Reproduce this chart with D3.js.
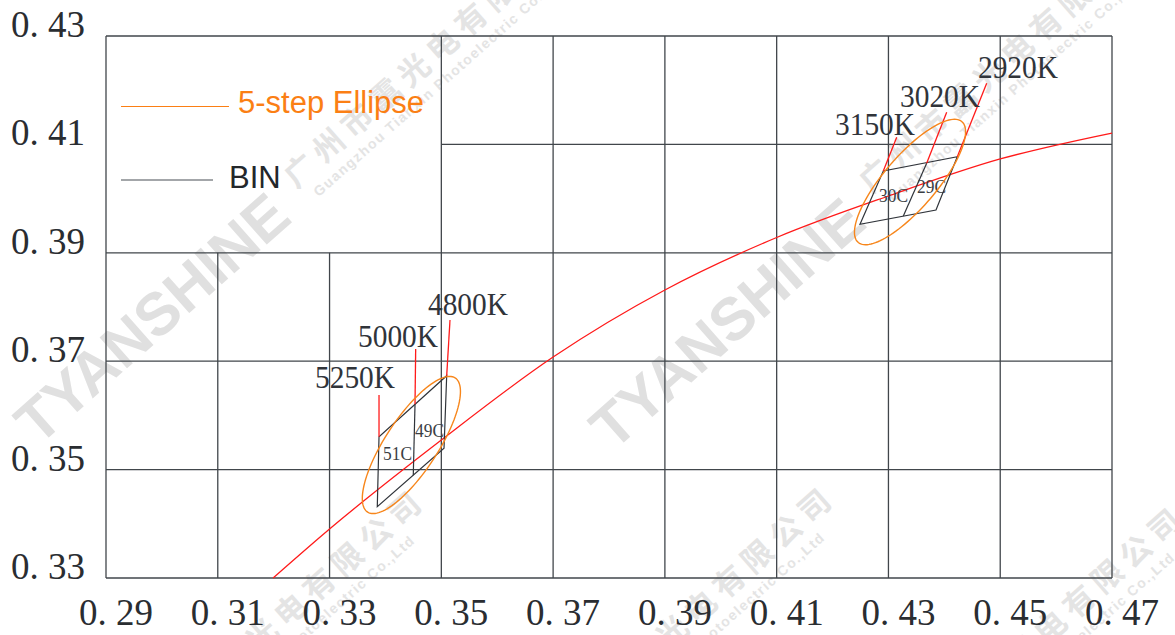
<!DOCTYPE html>
<html><head><meta charset="utf-8">
<script src="https://cdn.jsdelivr.net/npm/d3@7"></script>
<style>body{margin:0;background:#fff} svg{display:block}</style>
</head><body><svg id="c" width="1175" height="635"></svg>
<script>
// ---------- data ----------
const xTicks = [0.29,0.31,0.33,0.35,0.37,0.39,0.41,0.43,0.45,0.47];
const xTickLabels = ["0. 29","0. 31","0. 33","0. 35","0. 37","0. 39","0. 41","0. 43","0. 45","0. 47"];
const yTicks = [0.33,0.35,0.37,0.39,0.41,0.43];
const yTickLabels = ["0. 33","0. 35","0. 37","0. 39","0. 41","0. 43"];

// grid (table-like) segments in data units
const gridVx  = [0.29,0.31,0.33,0.35,0.37,0.39,0.41,0.43,0.45,0.47];
const gridVy0 = [0.33,0.33,0.33,0.33,0.33,0.33,0.33,0.33,0.33,0.33];
const gridVy1 = [0.43,0.39,0.39,0.43,0.43,0.43,0.43,0.43,0.43,0.43];
const gridHy  = [0.33,0.35,0.37,0.39,0.41,0.43];
const gridHx0 = [0.29,0.29,0.29,0.29,0.35,0.29];
const gridHx1 = [0.47,0.47,0.47,0.47,0.47,0.47];

// black-body locus
const locusX = [0.3199,0.33,0.35,0.37,0.39,0.41,0.43,0.45,0.47];
const locusY = [0.3300,0.33904,0.35546,0.37077,0.38314,0.39282,0.40048,0.40731,0.4121];

// bin 1 (around 5000K) corners: BL, TL, TR, BR
const bin1X = [0.33854,0.33885,0.35096,0.35048];
const bin1Y = [0.34315,0.35607,0.36732,0.35393];
const bin1MidX = [0.34529,0.34498];
const bin1MidY = [0.36205,0.34897];
const cct1Labels = ["5250K","5000K","4800K"];
const cct1TopX = [0.33885,0.34541,0.35155];
const cct1TopY = [0.36376,0.37225,0.37760];
const cct1LabelX = [0.32740,0.33509,0.34761];
const cct1LabelY = [0.36506,0.37262,0.37852];
const sub1Labels = ["51C","49C"];
const sub1X = [0.33956,0.34529];
const sub1Y = [0.35177,0.35601];

// bin 2 (around 3000K) corners: BL, TL, TR, BR
const bin2X = [0.42491,0.42908,0.44232,0.43851];
const bin2Y = [0.39526,0.40509,0.40773,0.39790];
const bin2MidX = [0.43684,0.43266];
const bin2MidY = [0.40651,0.39679];
const cct2Labels = ["3150K","3020K","2920K"];
const cct2TopX = [0.43148,0.44042,0.44758];
const cct2TopY = [0.41131,0.41592,0.42127];
const cct2LabelX = [0.42044,0.43207,0.44602];
const cct2LabelY = [0.41173,0.41690,0.42225];
const sub2Labels = ["30C","29C"];
const sub2X = [0.42831,0.43511];
const sub2Y = [0.39937,0.40103];

// 5-step ellipses
const ellCx = [0.34464,0.43386];
const ellCy = [0.35454,0.40306];
const ellA  = [0.01465,0.01450];
const ellB  = [0.00475,0.00475];
const ellTheta = [57.8,50.4];

const legendLabels = ["5-step Ellipse","BIN"];

// ---------- drawing ----------
const svg = d3.select("#c");
svg.append("rect").attr("width",1175).attr("height",635).attr("fill","#fff");

const x = d3.scaleLinear().domain([0.29,0.47]).range([106,1112]);
const y = d3.scaleLinear().domain([0.33,0.43]).range([578,36]);

// watermarks (beneath)
const wm = svg.append("g").attr("pointer-events","none");
function watermark(cx, cy, showWord){
  const g = wm.append("g").attr("transform",`translate(${cx},${cy}) rotate(-41.5)`);
  if(showWord){
    g.append("text").text("TYANSHINE").attr("x",0).attr("y",21)
      .attr("text-anchor","middle").attr("font-family","Liberation Sans, Arial, sans-serif")
      .attr("font-weight","bold").attr("font-size",60).attr("fill","#e0e0e0");
  }
  g.append("text").text("广州市靁光电有限公司").attr("x",193).attr("y",-1)
    .attr("font-family","Noto Sans CJK SC").attr("font-weight","bold")
    .attr("font-size",31).attr("letter-spacing",7).attr("fill","#e4e4e4");
  g.append("text").text("Guangzhou Tianxin Photoelectric Co.,Ltd").attr("x",205).attr("y",20)
    .attr("font-family","Liberation Sans, Arial, sans-serif").attr("font-weight","bold")
    .attr("font-size",14).attr("letter-spacing",1.5).attr("fill","#e4e4e4");
}
watermark(152,318,true);
watermark(727,323,true);
watermark(0,883,true);
watermark(410,880,true);
watermark(760,900,true);

// grid
const grid = svg.append("g").attr("stroke","#41464b").attr("stroke-width",1.3).attr("fill","none");
gridVx.forEach((v,i)=>{
  grid.append("line").attr("x1",x(v)).attr("x2",x(v)).attr("y1",y(gridVy0[i])).attr("y2",y(gridVy1[i]));
});
gridHy.forEach((v,i)=>{
  grid.append("line").attr("x1",x(gridHx0[i])).attr("x2",x(gridHx1[i])).attr("y1",y(v)).attr("y2",y(v));
});

// axis labels
const tickFont = "Liberation Serif, DejaVu Serif, serif";
svg.append("g").selectAll("text").data(xTicks).join("text")
  .attr("x",d=>x(d)+10).attr("y",625).attr("text-anchor","middle")
  .attr("font-family",tickFont).attr("font-size",37).attr("fill","#2a2d31")
  .text((d,i)=>xTickLabels[i]);
svg.append("g").selectAll("text").data(yTicks).join("text")
  .attr("x",85).attr("y",d=>y(d)+1).attr("text-anchor","end")
  .attr("font-family",tickFont).attr("font-size",37).attr("fill","#2a2d31")
  .text((d,i)=>yTickLabels[i]);

// locus
const line = d3.line().x(d=>x(d[0])).y(d=>y(d[1])).curve(d3.curveMonotoneX);
svg.append("path").datum(locusX.map((v,i)=>[v,locusY[i]]))
  .attr("d",line).attr("fill","none").attr("stroke","#ff1a1a").attr("stroke-width",1.3);

// bins
function drawBin(bx,by,mx,my,tx,ty,labels,lx,ly,subs,sx,sy){
  const g = svg.append("g");
  const pts = bx.map((v,i)=>[x(v),y(by[i])]);
  g.append("polygon").attr("points",pts.map(p=>p.join(",")).join(" "))
    .attr("fill","none").attr("stroke","#30343a").attr("stroke-width",1.2);
  g.append("line").attr("x1",x(mx[0])).attr("y1",y(my[0])).attr("x2",x(mx[1])).attr("y2",y(my[1]))
    .attr("stroke","#30343a").attr("stroke-width",1.2);
  const base = [[bx[1],by[1]],[mx[0],my[0]],[bx[2],by[2]]];
  base.forEach((b,i)=>{
    g.append("line").attr("x1",x(b[0])).attr("y1",y(b[1])).attr("x2",x(tx[i])).attr("y2",y(ty[i]))
      .attr("stroke","#ff1a1a").attr("stroke-width",1.3);
  });
  labels.forEach((t,i)=>{
    g.append("text").attr("x",x(lx[i])).attr("y",y(ly[i])).text(t)
      .attr("font-family",tickFont).attr("font-size",31).attr("fill","#30343a")
      .attr("textLength",80).attr("lengthAdjust","spacingAndGlyphs");
  });
  subs.forEach((t,i)=>{
    g.append("text").attr("x",x(sx[i])).attr("y",y(sy[i])).text(t)
      .attr("font-family",tickFont).attr("font-size",18).attr("fill","#3a3e44")
      .attr("textLength",29).attr("lengthAdjust","spacingAndGlyphs");
  });
}
drawBin(bin1X,bin1Y,bin1MidX,bin1MidY,cct1TopX,cct1TopY,cct1Labels,cct1LabelX,cct1LabelY,sub1Labels,sub1X,sub1Y);
drawBin(bin2X,bin2Y,bin2MidX,bin2MidY,cct2TopX,cct2TopY,cct2Labels,cct2LabelX,cct2LabelY,sub2Labels,sub2X,sub2Y);

// ellipses
const ellColor = "#f7861b";
ellCx.forEach((cx,i)=>{
  const th = ellTheta[i]*Math.PI/180;
  const ptsE = d3.range(0,361,3).map(deg=>{
    const t = deg*Math.PI/180;
    const dx = ellA[i]*Math.cos(t), dy = ellB[i]*Math.sin(t);
    return [cx + dx*Math.cos(th) - dy*Math.sin(th), ellCy[i] + dx*Math.sin(th) + dy*Math.cos(th)];
  });
  svg.append("path").datum(ptsE)
    .attr("d",d3.line().x(d=>x(d[0])).y(d=>y(d[1])).curve(d3.curveLinearClosed))
    .attr("fill","none").attr("stroke",ellColor).attr("stroke-width",1.4);
});

// legend
const lg = svg.append("g");
lg.append("line").attr("x1",121).attr("x2",229).attr("y1",106.5).attr("y2",106.5)
  .attr("stroke","#fb7f14").attr("stroke-width",1.2);
lg.append("text").attr("x",238).attr("y",113).text(legendLabels[0])
  .attr("font-family","Liberation Sans, Arial, sans-serif").attr("font-size",31).attr("fill","#fb7f14");
lg.append("line").attr("x1",121).attr("x2",213).attr("y1",180).attr("y2",180)
  .attr("stroke","#85888c").attr("stroke-width",1.5);
lg.append("text").attr("x",229).attr("y",188).text(legendLabels[1])
  .attr("font-family","Liberation Sans, Arial, sans-serif").attr("font-size",31).attr("fill","#23272b");
</script></body></html>
